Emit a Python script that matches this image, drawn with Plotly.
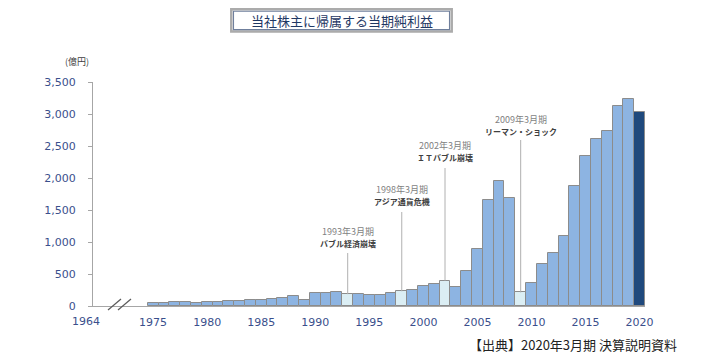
import plotly.graph_objects as go

# ---------------- data ----------------
years = list(range(1975, 2021))
net_income = [40, 40, 55, 55, 42, 55, 65, 80, 80, 95,
              100, 115, 125, 150, 95, 205, 205, 220, 185, 183,
              173, 168, 198, 230, 255, 305, 345, 397, 303, 540,
              893, 1660, 1958, 1690, 212, 365, 655, 835, 1100, 1870,
              2350, 2612, 2730, 3130, 3232, 3025]

event_years = [1993, 1998, 2002, 2009]
event_periods = ["1993年3月期", "1998年3月期", "2002年3月期", "2009年3月期"]
event_names = ["バブル経済崩壊", "アジア通貨危機", "ＩＴバブル崩壊", "リーマン・ショック"]
latest_year = 2020

x_tick_years = [1975, 1980, 1985, 1990, 1995, 2000, 2005, 2010, 2015, 2020]
x_tick_labels = ["1975", "1980", "1985", "1990", "1995", "2000", "2005", "2010", "2015", "2020"]
axis_start_label = "1964"
y_tick_values = [0, 500, 1000, 1500, 2000, 2500, 3000, 3500]

title_text = "当社株主に帰属する当期純利益"
unit_text = "(億円)"
source_text = "【出典】2020年3月期 決算説明資料"

# ---------------- layout geometry ----------------
# The page body has an 8px margin, so the figure is 8px smaller than the window
# and all reference pixel positions are mapped with the helpers below.
OFF = 8
W, H = 718 - OFF, 358 - OFF
REF_L, REF_R, REF_T, REF_B = 93, 645, 82, 306   # plot area in window pixels
L, T = REF_L - OFF, REF_T - OFF
R = 718 - REF_R
B = 358 - REF_B
PW, PH = REF_R - REF_L, REF_B - REF_T
Y_MAX = 3500
X_RANGE = [1969.44, 2020.5]


def px(x):
    return (x - REF_L) / PW


def py(y):
    return (REF_B - y) / PH


def y_from_pix(y):
    return (REF_B - y) / PH * Y_MAX


C_MAIN = "#8DB4E2"
C_LIGHT = "#DBEEF4"
C_DARK = "#1F497D"
C_EDGE = "#8C8C8C"
C_AXIS = "#A6A6A6"
C_TICK = "#3A4F8C"

colors = []
for yr in years:
    if yr == latest_year:
        colors.append(C_DARK)
    elif yr in event_years:
        colors.append(C_LIGHT)
    else:
        colors.append(C_MAIN)

fig = go.Figure()
fig.add_trace(go.Bar(
    x=years, y=net_income,
    marker=dict(color=colors, line=dict(color=C_EDGE, width=1)),
    width=1.0, hoverinfo="x+y", showlegend=False,
))

shapes = []
annotations = []

# callouts (line top, period-label centre, name-label centre, in window pixels)
callout_top_pix = [253, 212, 168, 140]
period_pix = [231.5, 189.5, 145, 119.5]
name_pix = [243.5, 201, 157, 131]
for yr, per, name, top, yp, yn in zip(event_years, event_periods, event_names,
                                      callout_top_pix, period_pix, name_pix):
    v = net_income[years.index(yr)]
    shapes.append(dict(type="line", xref="x", yref="y", x0=yr, x1=yr, y0=v,
                       y1=y_from_pix(top), line=dict(color="#B0B0B0", width=1)))
    annotations.append(dict(
        x=yr, y=py(yp), xref="x", yref="paper", xanchor="center", yanchor="middle",
        showarrow=False, text=per, borderpad=0,
        font=dict(family="Noto Sans CJK JP", size=9, color="#7F7F7F"),
    ))
    annotations.append(dict(
        x=yr, y=py(yn), xref="x", yref="paper", xanchor="center", yanchor="middle",
        showarrow=False, text=f"<b>{name}</b>", borderpad=0,
        font=dict(family="Noto Sans CJK JP", size=8, color="#404040"),
    ))

# title box (kept inside the figure, which starts 8px below the window top)
shapes.append(dict(type="rect", xref="paper", yref="paper",
                   x0=px(231.3), x1=px(451.7), y0=py(31.5), y1=py(9.3),
                   line=dict(color="#ABABAB", width=2.5), fillcolor="white", layer="below"))
shapes.append(dict(type="rect", xref="paper", yref="paper",
                   x0=px(233.5), x1=px(449.5), y0=py(29.6), y1=py(11.3),
                   line=dict(color="#6F7F9C", width=1.1)))
annotations.append(dict(x=px(341.5), y=py(20.5), xref="paper", yref="paper",
                        xanchor="center", yanchor="middle", showarrow=False,
                        text=title_text,
                        font=dict(family="Noto Sans CJK JP", size=13, color="#1F3864")))

# unit label
annotations.append(dict(x=px(76.7), y=py(61.5), xref="paper", yref="paper",
                        xanchor="center", yanchor="middle", showarrow=False,
                        text=unit_text,
                        font=dict(family="Noto Sans CJK JP", size=9, color="#404040")))

# source
annotations.append(dict(x=px(679), y=py(344), xref="paper", yref="paper",
                        xanchor="right", yanchor="middle", showarrow=False,
                        text=source_text,
                        font=dict(family="Noto Sans CJK JP", size=13, color="#222222")))

# axis start label (left of broken axis)
annotations.append(dict(x=px(85.5), y=py(321), xref="paper", yref="paper",
                        xanchor="center", yanchor="middle", showarrow=False,
                        text=axis_start_label,
                        font=dict(family="DejaVu Sans", size=11, color=C_TICK)))

# axis break marks
for x0 in (108, 118):
    shapes.append(dict(type="line", xref="paper", yref="paper",
                       x0=px(x0), y0=py(310), x1=px(x0 + 13), y1=py(299),
                       line=dict(color="#595959", width=1.2)))

fig.update_layout(
    width=W, height=H, autosize=False,
    margin=dict(l=L, r=R, t=T, b=B, pad=0),
    paper_bgcolor="white", plot_bgcolor="white",
    bargap=0,
    shapes=shapes, annotations=annotations,
    xaxis=dict(range=X_RANGE, tickvals=x_tick_years, ticktext=x_tick_labels,
               showline=True, linecolor=C_AXIS, linewidth=1, ticks="",
               showgrid=False, zeroline=False, ticklabelstandoff=6,
               tickfont=dict(family="DejaVu Sans", size=11, color=C_TICK)),
    yaxis=dict(range=[0, Y_MAX], tickvals=y_tick_values, tickformat=",d",
               showline=True, linecolor=C_AXIS, linewidth=1,
               ticks="outside", ticklen=4, tickcolor=C_AXIS,
               showgrid=False, zeroline=False, ticklabelstandoff=10,
               tickfont=dict(family="DejaVu Sans", size=11, color=C_TICK)),
)

fig.write_html("out.html")
